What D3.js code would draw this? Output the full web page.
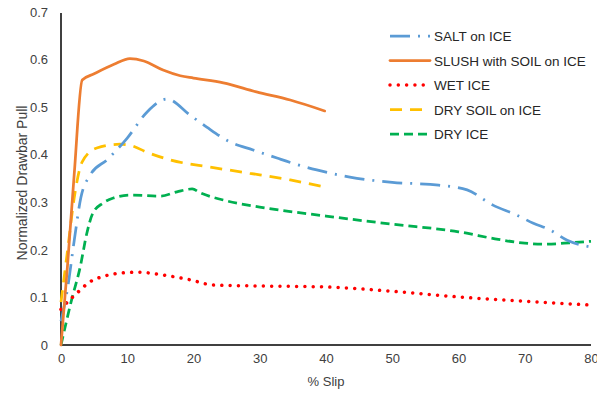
<!DOCTYPE html>
<html>
<head>
<meta charset="utf-8">
<script src="https://cdn.jsdelivr.net/npm/d3@7"></script>
<style>
  body { margin: 0; background: #fff; }
  svg { display: block; font-family: "Liberation Sans", Arial, sans-serif; }
  .axis text { fill: #404040; font-size: 13px; }
  .axis path { stroke: #000; stroke-width: 1.5; }
</style>
</head>
<body>
<svg id="chart" width="597" height="393"></svg>
<script>
// x ticks and y ticks
const xTicks = [0, 10, 20, 30, 40, 50, 60, 70, 80];
const yTicks = [0, 0.1, 0.2, 0.3, 0.4, 0.5, 0.6, 0.7];

// series values: [slip %, pull]
const saltOnIce = [[0, 0.05], [1, 0.12], [2, 0.22], [3, 0.31], [4.4, 0.357], [7, 0.39], [10, 0.435], [13, 0.49], [16, 0.517],
  [19.5, 0.483], [22, 0.458], [25.5, 0.427], [29, 0.41], [32.6, 0.393], [35, 0.382], [38.6, 0.368], [43.6, 0.353],
  [50, 0.342], [57, 0.336], [61.3, 0.326], [65.2, 0.294], [68.8, 0.273], [71.3, 0.256], [73.8, 0.242], [76.4, 0.22], [80, 0.206]];
const slushSoilOnIce = [[0, 0.0], [1, 0.17], [2, 0.36], [3.2, 0.557], [5, 0.57], [8, 0.59], [10.4, 0.602], [12.5, 0.597],
  [15.4, 0.578], [18, 0.566], [20, 0.561], [24.5, 0.551], [29.5, 0.532], [34.6, 0.515], [39.8, 0.492]];
const wetIce = [[0, 0.075], [0.3, 0.08], [2.4, 0.109], [4.4, 0.133], [6.6, 0.145], [8.9, 0.151], [11.7, 0.153], [15.4, 0.147],
  [19.5, 0.137], [23, 0.126], [30, 0.124], [40, 0.122], [50, 0.113], [60, 0.101], [70, 0.092], [80, 0.084]];
const drySoilOnIce = [[0, 0.09], [1, 0.2], [2, 0.31], [3.2, 0.385], [5.4, 0.414], [8.9, 0.422], [10.4, 0.42], [13, 0.405],
  [16.5, 0.389], [22.5, 0.374], [28.5, 0.361], [34.6, 0.347], [39.8, 0.332]];
const dryIce = [[0, 0.0], [1.6, 0.095], [2.9, 0.164], [3.9, 0.235], [4.8, 0.277], [6.3, 0.298], [7.9, 0.309], [10.5, 0.315],
  [15, 0.313], [17.5, 0.322], [19.8, 0.328], [21, 0.32], [25, 0.303], [30, 0.29], [40, 0.271], [50, 0.254], [60, 0.238],
  [66, 0.222], [70, 0.214], [73, 0.212], [77, 0.215], [80, 0.218]];

const series = [
  { name: "SALT on ICE", values: saltOnIce, color: "#5b9bd5", dash: "20,8,2,8", cap: "butt" },
  { name: "SLUSH with SOIL on ICE", values: slushSoilOnIce, color: "#ed7d31", dash: null, cap: "round" },
  { name: "WET ICE", values: wetIce, color: "#ff0000", dash: "0.01,8.3", cap: "round" },
  { name: "DRY SOIL on ICE", values: drySoilOnIce, color: "#ffc000", dash: "12,8", cap: "butt" },
  { name: "DRY ICE", values: dryIce, color: "#00b050", dash: "9,5", cap: "butt" }
];

const svg = d3.select("#chart");
const x = d3.scaleLinear().domain([0, 80]).range([61, 591]);
const y = d3.scaleLinear().domain([0, 0.7]).range([345, 12]);

// axes without tick marks
svg.append("g").attr("class", "axis")
  .attr("transform", "translate(0,345)")
  .call(d3.axisBottom(x).tickValues(xTicks).tickSize(0).tickPadding(9).tickFormat(d3.format("d")))
  .call(g => g.select(".domain").attr("d", `M${x(0)},0H${x(80)}`));

svg.append("g").attr("class", "axis")
  .attr("transform", "translate(61,0)")
  .call(d3.axisLeft(y).tickValues(yTicks).tickSize(0).tickPadding(13).tickFormat(d => d === 0 ? "0" : d3.format(".1f")(d)))
  .call(g => g.select(".domain").attr("d", `M0,${y(0.7) + 1}V${y(0)}`));

// axis titles
svg.append("text")
  .attr("x", x(40)).attr("y", 386)
  .attr("text-anchor", "middle")
  .attr("fill", "#404040").attr("font-size", 13)
  .text("% Slip");

svg.append("text")
  .attr("transform", `translate(27,183) rotate(-90)`)
  .attr("text-anchor", "middle")
  .attr("fill", "#404040").attr("font-size", 14)
  .text("Normalized Drawbar Pull");

const line = d3.line()
  .x(d => x(d[0]))
  .y(d => y(d[1]))
  .curve(d3.curveMonotoneX);

// draw series (green and red first, orange on top)
const drawOrder = [4, 2, 3, 0, 1];
drawOrder.forEach(i => {
  const s = series[i];
  svg.append("path")
    .datum(s.values)
    .attr("d", line)
    .attr("fill", "none")
    .attr("stroke", s.color)
    .attr("stroke-width", s.name === "WET ICE" ? 3.5 : 2.75)
    .attr("stroke-linecap", s.cap)
    .attr("stroke-dasharray", s.dash);
});

// legend
const legend = svg.append("g").attr("transform", "translate(390,36)");
series.forEach((s, i) => {
  const row = legend.append("g").attr("transform", `translate(0,${i * 24.5})`);
  row.append("line")
    .attr("x1", 0).attr("x2", 40).attr("y1", 0).attr("y2", 0)
    .attr("stroke", s.color)
    .attr("stroke-width", s.name === "WET ICE" ? 3.5 : 2.75)
    .attr("stroke-linecap", s.cap)
    .attr("stroke-dasharray", s.dash);
  row.append("text")
    .attr("x", 44).attr("y", 5)
    .attr("fill", "#262626").attr("font-size", 13.5)
    .text(s.name);
});
</script>
</body>
</html>
